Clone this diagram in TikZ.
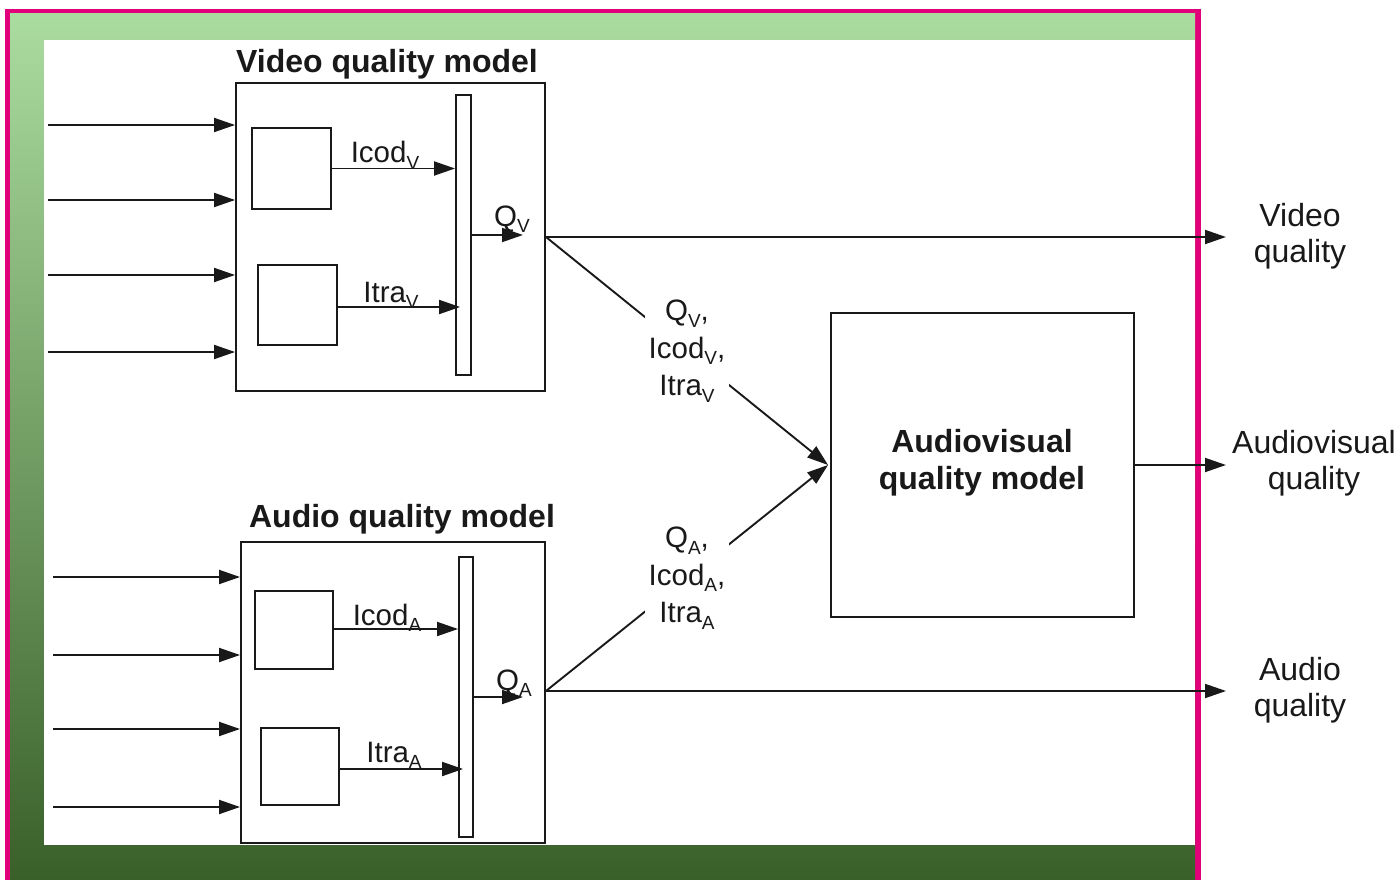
\documentclass[tikz,border=0pt]{standalone}
\usepackage{fontspec}
\setmainfont{Liberation Sans}
\usetikzlibrary{arrows.meta}
\newcommand\sbs[1]{\raisebox{-0.22em}{\fontsize{19}{19}\selectfont #1}}
\definecolor{pinkc}{RGB}{226,0,122}
\definecolor{lgreen}{RGB}{171,220,159}
\definecolor{dgreen}{RGB}{58,96,42}
\definecolor{ink}{RGB}{25,25,25}
\begin{document}
\begin{tikzpicture}[x=1pt,y=-1pt,
  blk/.style={draw=ink,line width=1.9pt,inner sep=0pt,fill=white},
  arr/.style={draw=ink,line width=1.9pt,-{Triangle[length=21pt,width=14pt]}},
  lab/.style={text=ink,inner sep=0pt,font=\fontsize{29.5}{37.5}\selectfont},
  dlab/.style={text=ink,fill=white,inner xsep=4pt,inner ysep=2pt,align=center,font=\fontsize{29.5}{37.5}\selectfont},
  rlab/.style={text=ink,inner sep=0pt,align=center,font=\fontsize{32}{35.5}\selectfont},
  ttl/.style={text=ink,inner sep=0pt,font=\fontsize{32}{37}\selectfont\bfseries}]
\useasboundingbox (0,0) rectangle (1400,880);
% background
\fill[white] (0,0) rectangle (1400,880);
\fill[pinkc] (5,9) rectangle (1201,882);
\shade[top color=lgreen, bottom color=dgreen] (10,14) rectangle (1195,879);
\fill[white] (44,40) rectangle (1195,845);

% video model
\node[blk,minimum width=309pt,minimum height=308pt] (vbox) at (390.5,237) {};
\node[ttl,anchor=base] (vtitle) at (387,73) {Video quality model};
\node[blk,minimum width=79pt,minimum height=81pt] (v1) at (291.5,168.5) {};
\node[blk,minimum width=79pt,minimum height=80pt] (v2) at (297.5,305) {};
\node[blk,minimum width=15pt,minimum height=280pt] (vbar) at (463.5,235) {};
\draw[arr] (v1.east) -- (v1.east -| vbar.west);
\draw[arr] (v2.east |- 0,307) -- ([xshift=5pt]vbar.west |- 0,307);
\coordinate (vq) at (523,235);
\draw[arr] (vbar.east |- vq) -- (vq);
\node[lab,anchor=base] (licv) at (385,163) {Icod\sbs{V}};
\node[lab,anchor=base] (litv) at (391,302) {Itra\sbs{V}};
\node[lab,anchor=base] (lqv) at (512,226) {Q\sbs{V}};
\foreach \y [count=\i] in {125,200,275,352}{
  \coordinate (vin\i) at (48,\y);
  \draw[arr] (vin\i) -- (vin\i -| vbox.west);
}

% audio model
\node[blk,minimum width=304pt,minimum height=301pt] (abox) at (393,692.5) {};
\node[ttl,anchor=base] (atitle) at (402,527) {Audio quality model};
\node[blk,minimum width=78pt,minimum height=78pt] (a1) at (294,630) {};
\node[blk,minimum width=78pt,minimum height=77pt] (a2) at (300,766.5) {};
\node[blk,minimum width=14pt,minimum height=280pt] (abar) at (466,697) {};
\draw[arr] (a1.east |- 0,629) -- (abar.west |- 0,629);
\draw[arr] (a2.east |- 0,769) -- ([xshift=5pt]abar.west |- 0,769);
\coordinate (aq) at (523,697);
\draw[arr] (abar.east |- aq) -- (aq);
\node[lab,anchor=base] (lica) at (387,625) {Icod\sbs{A}};
\node[lab,anchor=base] (lita) at (394,762) {Itra\sbs{A}};
\node[lab,anchor=base] (lqa) at (514,690) {Q\sbs{A}};
\foreach \y [count=\i] in {577,655,729,807}{
  \coordinate (ain\i) at (53,\y);
  \draw[arr] (ain\i) -- (ain\i -| abox.west);
}

% audiovisual model
\node[blk,minimum width=303pt,minimum height=304pt] (av) at (982.5,465) {};
\node[ttl,align=center] (avt) at (982,463) {Audiovisual\\quality model};

% outputs
\coordinate (vout) at (1226,237);
\coordinate (aout) at (1226,691);
\coordinate (avout) at (1226,465);
\draw[arr] (vbox.east) -- (vout);
\draw[arr] (abox.east |- aout) -- (aout);
\draw[arr] (av.east) -- (avout);
\node[rlab] (rv) at (1300,236) {Video\\quality};
\node[rlab] (rav) at (1314,463) {Audiovisual\\quality};
\node[rlab] (ra) at (1300,690) {Audio\\quality};

% diagonals
\draw[arr] (vbox.east) -- node[dlab] (dv) {Q\sbs{V},\\Icod\sbs{V},\\Itra\sbs{V}} ([xshift=-2pt]av.west);
\draw[arr] (abox.east |- aout) -- node[dlab] (da) {Q\sbs{A},\\Icod\sbs{A},\\Itra\sbs{A}} ([xshift=-2pt]av.west);
\end{tikzpicture}
\end{document}
